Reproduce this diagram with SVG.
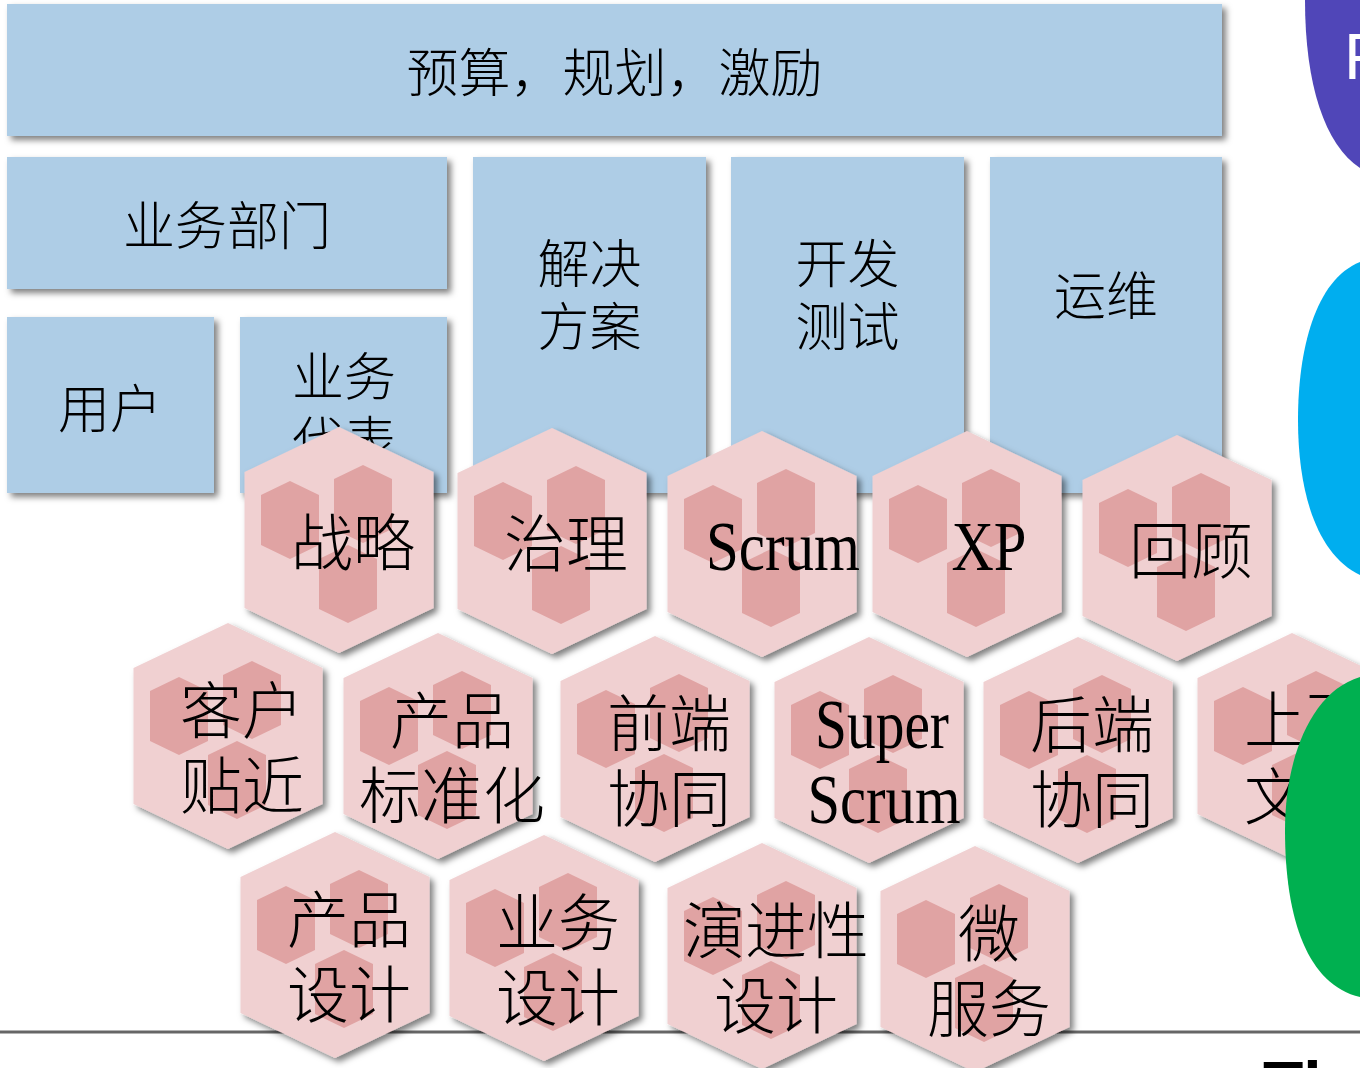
<svg xmlns="http://www.w3.org/2000/svg" xmlns:xlink="http://www.w3.org/1999/xlink" width="1360" height="1068" viewBox="0 0 1360 1068">
<style>
.box{fill:#aecde6;filter:url(#sh)}
.cj{font-family:"Noto Sans CJK SC","Noto Sans CJK TC",sans-serif;font-weight:300;fill:#000;text-anchor:middle}
.b{font-size:52px}
.h{font-size:62px}
.lt{font-family:"Liberation Serif",serif;font-size:70px;fill:#000;text-anchor:middle}
.outer{fill:#f0d0d1;filter:url(#sh)}
.inner{fill:#e0a3a3}
</style>
<defs>
<filter id="sh" x="-10%" y="-10%" width="125%" height="125%">
<feDropShadow dx="4" dy="4" stdDeviation="3" flood-color="#000" flood-opacity="0.5"/>
</filter>
<polygon id="ih" points="0,-39 29,-25 29,25 0,39 -29,25 -29,-25"/>
<g id="hex">
<polygon class="outer" points="0,-113 94.5,-68 94.5,68 0,113 -94.5,68 -94.5,-68"/>
<use xlink:href="#ih" href="#ih" class="inner" x="-49" y="-20"/>
<use xlink:href="#ih" href="#ih" class="inner" x="24" y="-36"/>
<use xlink:href="#ih" href="#ih" class="inner" x="9" y="44"/>
</g>
</defs>
<rect width="1360" height="1068" fill="#fff"/>

<g id="box-top"><rect class="box" x="7" y="4" width="1215" height="132"/><text class="cj b" x="614.5" y="92">预算，规划，激励</text></g>
<g id="box-biz"><rect class="box" x="7" y="157" width="440" height="132"/><text class="cj b" x="227" y="245">业务部门</text></g>
<g id="box-user"><rect class="box" x="7" y="317" width="207" height="176"/><text class="cj b" x="110" y="428">用户</text></g>
<g id="box-rep"><rect class="box" x="240" y="317" width="207" height="176"/><text class="cj b" x="344" y="396">业务</text><text class="cj b" x="344" y="460">代表</text></g>
<g id="box-sol"><rect class="box" x="473" y="157" width="233" height="336"/><text class="cj b" x="589.5" y="283">解决</text><text class="cj b" x="589.5" y="346">方案</text></g>
<g id="box-dev"><rect class="box" x="731" y="157" width="233" height="336"/><text class="cj b" x="847.5" y="283">开发</text><text class="cj b" x="847.5" y="346">测试</text></g>
<g id="box-ops"><rect class="box" x="990" y="157" width="232" height="336"/><text class="cj b" x="1106" y="315">运维</text></g>

<g id="connectors"><line x1="0" y1="1032" x2="1360" y2="1032" stroke="#666" stroke-width="3"/></g>

<g id="hex-strategy"><use xlink:href="#hex" href="#hex" x="339" y="540"/><text class="cj h" x="353" y="566">战略</text></g>
<g id="hex-governance"><use xlink:href="#hex" href="#hex" x="552" y="541"/><text class="cj h" x="566" y="567">治理</text></g>
<g id="hex-scrum"><use xlink:href="#hex" href="#hex" x="762" y="544"/><text class="lt" x="783" y="570" textLength="154" lengthAdjust="spacingAndGlyphs">Scrum</text></g>
<g id="hex-xp"><use xlink:href="#hex" href="#hex" x="967" y="544"/><text class="lt" x="989" y="570" textLength="75" lengthAdjust="spacingAndGlyphs">XP</text></g>
<g id="hex-retro"><use xlink:href="#hex" href="#hex" x="1177" y="548"/><text class="cj h" x="1191" y="574">回顾</text></g>

<g id="hex-customer"><use xlink:href="#hex" href="#hex" x="228" y="736"/><text class="cj h" x="242" y="734">客户</text><text class="cj h" x="242" y="809">贴近</text></g>
<g id="hex-standard"><use xlink:href="#hex" href="#hex" x="438" y="746"/><text class="cj h" x="452" y="744">产品</text><text class="cj h" x="452" y="819">标准化</text></g>
<g id="hex-frontend"><use xlink:href="#hex" href="#hex" x="655" y="749"/><text class="cj h" x="669" y="747">前端</text><text class="cj h" x="669" y="822">协同</text></g>
<g id="hex-superscrum"><use xlink:href="#hex" href="#hex" x="869" y="750"/><text class="lt" x="882" y="748" textLength="134" lengthAdjust="spacingAndGlyphs">Super</text><text class="lt" x="884" y="823" textLength="153" lengthAdjust="spacingAndGlyphs">Scrum</text></g>
<g id="hex-backend"><use xlink:href="#hex" href="#hex" x="1078" y="750"/><text class="cj h" x="1092" y="748">后端</text><text class="cj h" x="1092" y="823">协同</text></g>
<g id="hex-context"><use xlink:href="#hex" href="#hex" x="1292" y="746"/><text class="cj h" x="1244" y="743" style="text-anchor:start">上下</text><text class="cj h" x="1244" y="820" style="text-anchor:start">文</text></g>

<g id="hex-productdesign"><use xlink:href="#hex" href="#hex" x="335" y="945"/><text class="cj h" x="349" y="943">产品</text><text class="cj h" x="349" y="1018">设计</text></g>
<g id="hex-bizdesign"><use xlink:href="#hex" href="#hex" x="544" y="948"/><text class="cj h" x="558" y="946">业务</text><text class="cj h" x="558" y="1021">设计</text></g>
<g id="hex-evolution"><use xlink:href="#hex" href="#hex" x="762" y="956"/><text class="cj h" x="776" y="954">演进性</text><text class="cj h" x="776" y="1029">设计</text></g>
<g id="hex-micro"><use xlink:href="#hex" href="#hex" x="975" y="959"/><text class="cj h" x="989" y="957">微</text><text class="cj h" x="989" y="1032">服务</text></g>

<g id="blob-purple"><path d="M1305,0 C1305,85 1325,145 1360,168 L1360,0 Z" fill="#5046b8"/><text x="1344" y="79" font-family="Liberation Sans,sans-serif" font-size="65" fill="#fff">F</text></g>
<g id="blob-cyan"><path d="M1360,262 C1315,280 1298,350 1298,420 C1298,495 1318,555 1360,575 Z" fill="#00aeef"/></g>
<g id="blob-green"><path d="M1360,677 C1310,692 1285,760 1285,830 C1285,920 1308,985 1360,997 Z" fill="#00b050"/></g>
<text x="1263" y="1108" font-family="Liberation Sans,sans-serif" font-weight="bold" font-size="66" fill="#000">Th</text>
</svg>
